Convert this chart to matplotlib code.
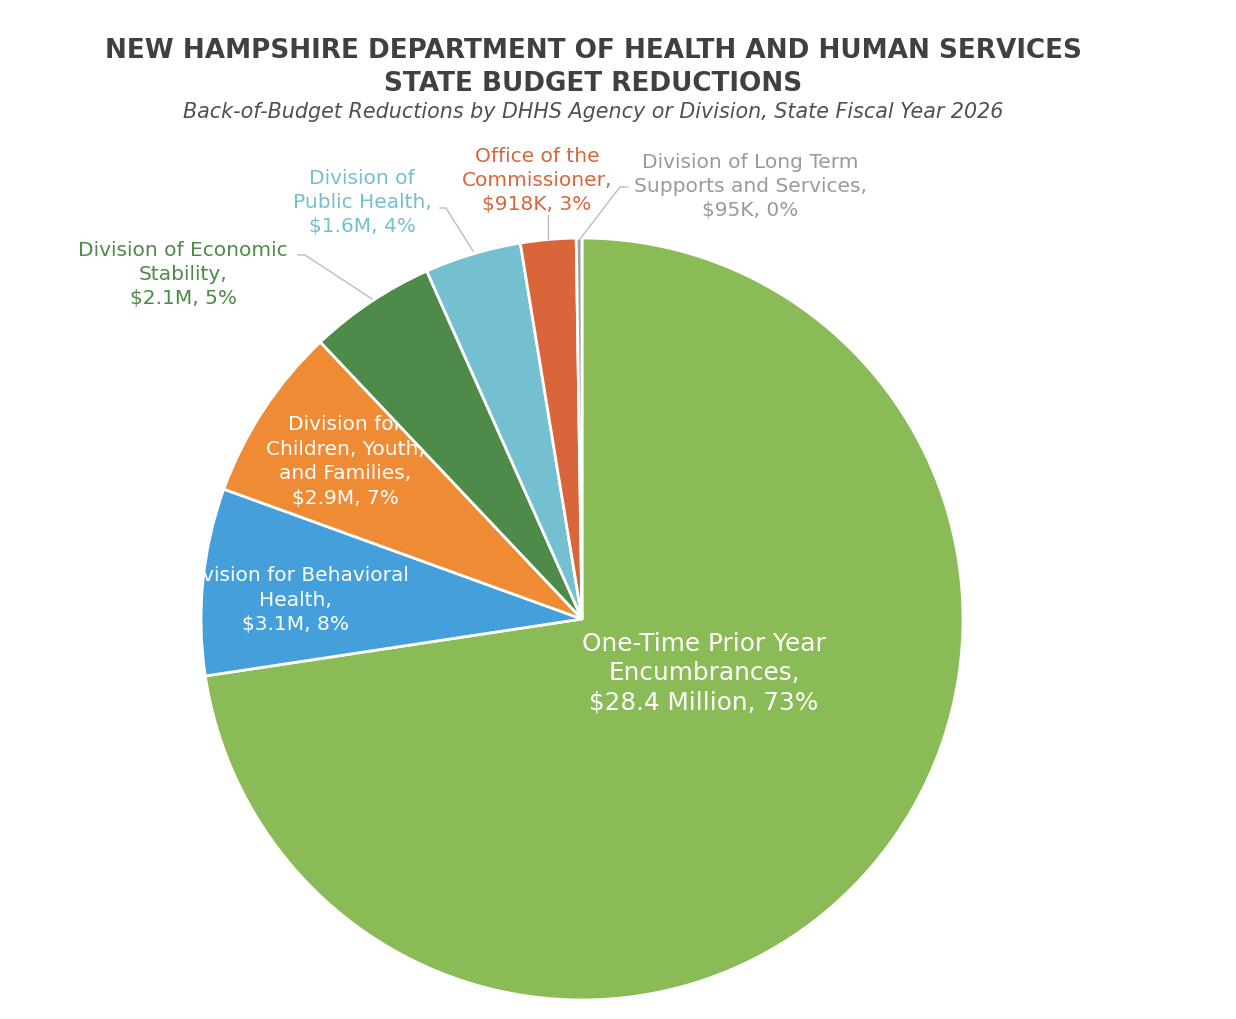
import matplotlib
matplotlib.use("Agg")
import matplotlib.pyplot as plt

# ---- data ----
categories = [
    "One-Time Prior Year Encumbrances",
    "Division for Behavioral Health",
    "Division for Children, Youth, and Families",
    "Division of Economic Stability",
    "Division of Public Health",
    "Office of the Commissioner",
    "Division of Long Term Supports and Services",
]
values_millions = [28.4, 3.1, 2.9, 2.1, 1.6, 0.918, 0.095]
label_texts = [
    "One-Time Prior Year\nEncumbrances,\n$28.4 Million, 73%",
    "Division for Behavioral\nHealth,\n$3.1M, 8%",
    "Division for\nChildren, Youth,\nand Families,\n$2.9M, 7%",
    "Division of Economic\nStability,\n$2.1M, 5%",
    "Division of\nPublic Health,\n$1.6M, 4%",
    "Office of the\nCommissioner,\n$918K, 3%",
    "Division of Long Term\nSupports and Services,\n$95K, 0%",
]
colors = ["#8BBB57", "#459FDA", "#EF8A35", "#4E8A48", "#74BFD0", "#D9663A", "#A3A3A3"]

title1 = "NEW HAMPSHIRE DEPARTMENT OF HEALTH AND HUMAN SERVICES"
title2 = "STATE BUDGET REDUCTIONS"
subtitle = "Back-of-Budget Reductions by DHHS Agency or Division, State Fiscal Year 2026"

W, H = 1236, 1020
fig = plt.figure(figsize=(W / 100, H / 100), dpi=100)
ax = fig.add_axes([0, 0, 1, 1])

def Y(py):
    return H - py

cx, cy, R = 582, 620, 381
wedges, _ = ax.pie(values_millions, colors=colors, startangle=90, counterclock=False,
                   center=(cx, Y(cy)), radius=R, frame=True,
                   wedgeprops=dict(edgecolor="white", linewidth=2))
ax.set_xlim(0, W)
ax.set_ylim(0, H)
ax.axis("off")
for i, w in enumerate(wedges):
    w.set_zorder(2 + i)

FONT = "DejaVu Sans"

def lsp(spacing_px, fs):
    return spacing_px / (0.91 * fs * 100 / 72)

# inside labels (clipped to their wedges)
inside = {0: (704, 673, 17.8, 29), 1: (295, 600, 14.5, 25), 2: (345, 461.5, 14.5, 25)}
for i, (x, y, fs, sp) in inside.items():
    t = ax.text(x, Y(y), label_texts[i], ha="center", va="center", color="white",
                fontsize=fs, family=FONT, linespacing=lsp(sp, fs),
                zorder=2 + i + 0.5)
    t.set_clip_path(wedges[i])

# outside labels
outside = {3: (183, 274.5), 4: (362, 202.5), 5: (537, 180.5), 6: (750, 186.5)}
label_colors = {3: "#4E8A48", 4: "#74BFD0", 5: "#D9663A", 6: "#9A9A9A"}
for i, (x, y) in outside.items():
    ax.text(x, Y(y), label_texts[i], ha="center", va="center", color=label_colors[i],
            fontsize=14.5, family=FONT, linespacing=lsp(25, 14.5), zorder=20)

# leader lines
lc = "#BDBDBD"
ax.plot([298, 305, 372], [Y(256), Y(256), Y(300)], color=lc, lw=1, zorder=20)
ax.plot([440, 446, 473], [Y(209), Y(209), Y(252)], color=lc, lw=1, zorder=20)
ax.plot([548, 548], [Y(216), Y(240)], color=lc, lw=1, zorder=20)
ax.plot([628, 620, 580], [Y(188), Y(188), Y(240)], color=lc, lw=1, zorder=20)

# titles
ax.text(593, Y(51), title1, ha="center", va="center", fontsize=18.9, fontweight="bold",
        color="#404040", family=FONT)
ax.text(593, Y(84), title2, ha="center", va="center", fontsize=18.9, fontweight="bold",
        color="#404040", family=FONT)
ax.text(593, Y(112), subtitle, ha="center", va="center", fontsize=14.9, style="italic",
        color="#505050", family=FONT)

fig.savefig("out.png", dpi=100, facecolor="white")
